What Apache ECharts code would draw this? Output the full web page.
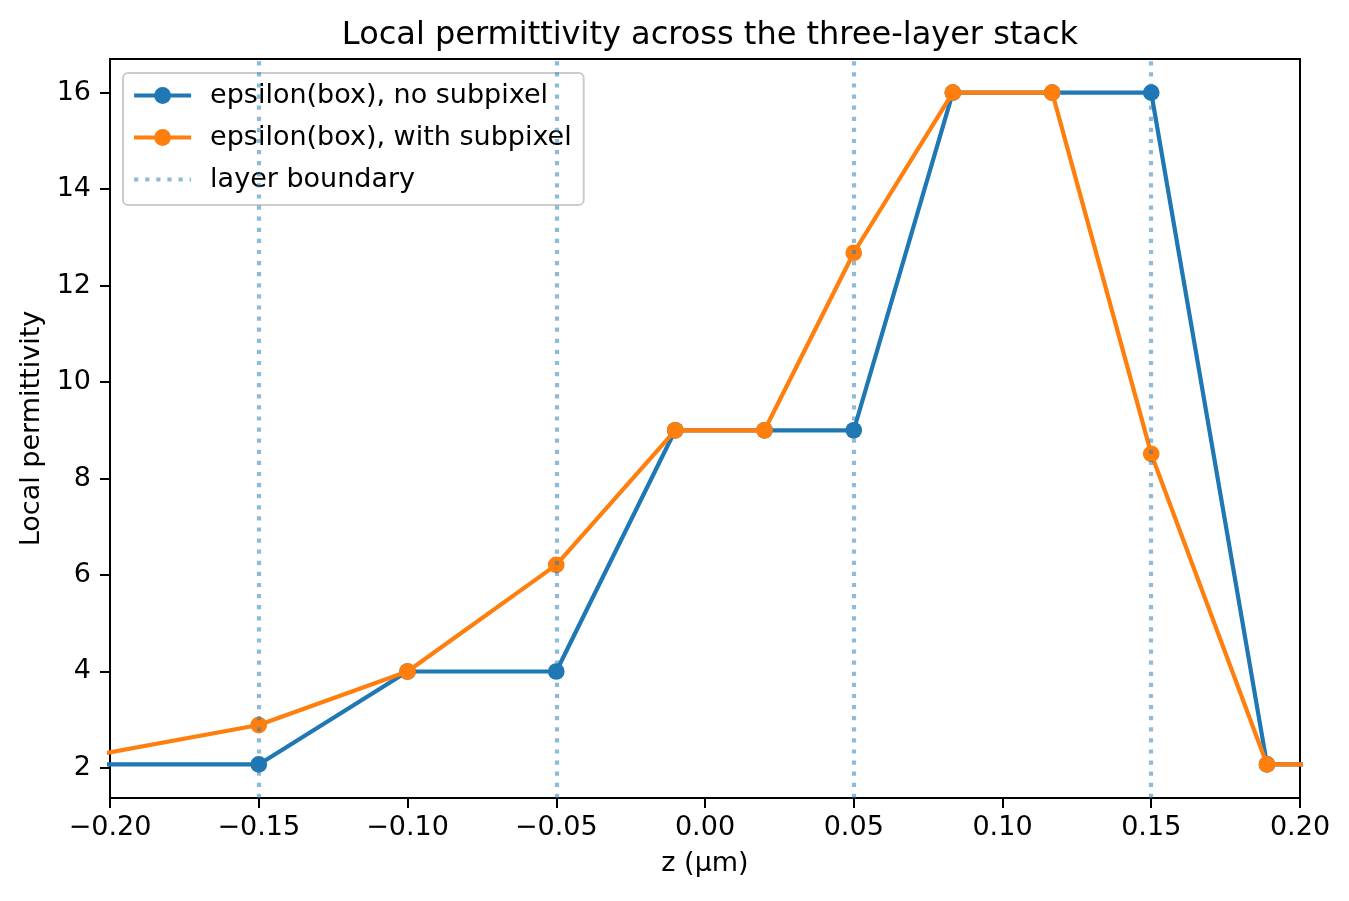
<!DOCTYPE html>
<html>
<head>
<meta charset="utf-8">
<script src="https://cdn.jsdelivr.net/npm/echarts@6/dist/echarts.min.js"></script>
<style>
  html, body { margin: 0; padding: 0; background: #fff; }
  #chart { width: 1349px; height: 901px; }
</style>
</head>
<body>
<div id="chart"></div>
<script>
// sample positions (um) and permittivity values
var zPoints = [-0.2222, -0.15, -0.10, -0.05, -0.01, 0.02, 0.05, 0.0833, 0.1167, 0.15, 0.1889, 0.2278];
var epsNoSubpixel = [2.0736, 2.0736, 4, 4, 9, 9, 9, 16, 16, 16, 2.0736, 2.0736];
var epsWithSubpixel = [2.0736, 2.89, 4, 6.21, 9, 9, 12.68, 16, 16, 8.51, 2.0736, 2.0736];
var layerBoundaries = [-0.15, -0.05, 0.05, 0.15];
var yTicks = [2, 4, 6, 8, 10, 12, 14, 16];

var seriesNames = ['epsilon(box), no subpixel', 'epsilon(box), with subpixel', 'layer boundary'];
var FONT = 'DejaVu Sans';

function pairs(values) {
  return zPoints.map(function (z, i) { return [z, values[i]]; });
}

function fmtTick(v) {
  if (Math.abs(v) < 1e-9) return '0.00';
  return (v < 0 ? '\u2212' : '') + Math.abs(v).toFixed(2);
}

var dom = document.getElementById('chart');
var myChart = echarts.init(dom, null, { renderer: 'canvas' });

var option = {
  animation: false,
  backgroundColor: '#fff',
  title: {
    text: 'Local permittivity across the three-layer stack',
    left: 705,
    top: 15,
    textAlign: 'center',
    textStyle: { fontFamily: FONT, fontSize: 32, fontWeight: 'normal', color: '#000' }
  },
  legend: {
    orient: 'vertical',
    left: 123,
    top: 73,
    padding: [9, 12, 12, 9],
    itemWidth: 57,
    itemHeight: 21,
    itemGap: 15,
    backgroundColor: 'rgba(255,255,255,0.8)',
    borderColor: '#cccccc',
    borderWidth: 2,
    borderRadius: 5,
    lineStyle: { width: 4.2 },
    textStyle: { fontFamily: FONT, fontSize: 27, color: '#000', padding: [0, 0, 0, 14] },
    data: [
      { name: seriesNames[0] },
      { name: seriesNames[1] },
      { name: seriesNames[2], itemStyle: { opacity: 0, color: 'rgba(0,0,0,0)' } }
    ]
  },
  grid: {
    left: 110,
    right: 49,
    top: 59,
    bottom: 103,
    show: true,
    borderColor: '#000',
    borderWidth: 2,
    backgroundColor: 'transparent'
  },
  xAxis: {
    type: 'value',
    min: -0.2,
    max: 0.2,
    interval: 0.05,
    name: 'z (\u03bcm)',
    nameLocation: 'middle',
    nameGap: 52,
    nameTextStyle: { fontFamily: FONT, fontSize: 27, color: '#000' },
    axisLine: { show: true, onZero: false, lineStyle: { color: '#000', width: 2 } },
    axisTick: { show: true, length: 10, lineStyle: { color: '#000', width: 2 } },
    axisLabel: { margin: 16, fontFamily: FONT, fontSize: 27, color: '#000', formatter: fmtTick },
    splitLine: { show: false }
  },
  yAxis: {
    type: 'value',
    min: 1.3773,
    max: 16.6963,
    name: 'Local permittivity',
    nameLocation: 'middle',
    nameGap: 65,
    nameTextStyle: { fontFamily: FONT, fontSize: 27, color: '#000' },
    axisLine: { show: true, onZero: false, lineStyle: { color: '#000', width: 2 } },
    axisTick: { show: true, length: 10, customValues: yTicks, lineStyle: { color: '#000', width: 2 } },
    axisLabel: { margin: 19, fontFamily: FONT, fontSize: 27, color: '#000', customValues: yTicks },
    splitLine: { show: false }
  },
  series: [
    {
      name: seriesNames[0],
      type: 'line',
      data: pairs(epsNoSubpixel),
      symbol: 'circle',
      symbolSize: 16.7,
      clip: true,
      z: 2,
      lineStyle: { color: '#1f77b4', width: 4.2 },
      itemStyle: { color: '#1f77b4' }
    },
    {
      name: seriesNames[1],
      type: 'line',
      data: pairs(epsWithSubpixel),
      symbol: 'circle',
      symbolSize: 16.7,
      clip: true,
      z: 3,
      lineStyle: { color: '#ff7f0e', width: 4.2 },
      itemStyle: { color: '#ff7f0e' }
    },
    {
      name: seriesNames[2],
      type: 'line',
      data: [],
      symbol: 'none',
      z: 4,
      lineStyle: { color: 'rgba(31,119,180,0.5)', width: 4.2, type: [4.2, 6.9] },
      itemStyle: { color: 'rgba(31,119,180,0.5)' },
      markLine: {
        silent: true,
        symbol: ['none', 'none'],
        label: { show: false },
        z: 5,
        lineStyle: { color: 'rgba(31,119,180,0.5)', width: 4.2, type: [4.2, 6.9] },
        data: layerBoundaries.map(function (b) { return { xAxis: b }; })
      }
    }
  ]
};

myChart.setOption(option);
window.addEventListener('resize', myChart.resize);
</script>
</body>
</html>
